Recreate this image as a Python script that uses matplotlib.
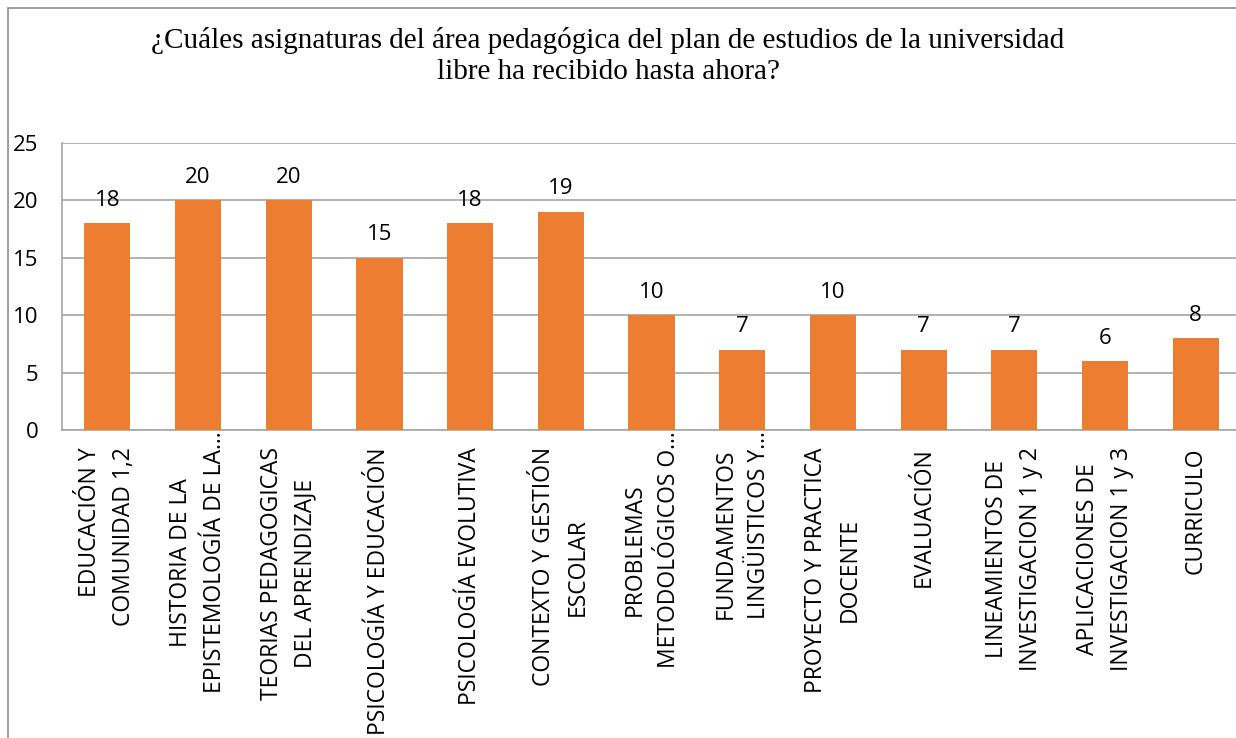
import matplotlib.pyplot as plt
from matplotlib.patches import Rectangle

# datos
asignaturas = [
    'EDUCACIÓN Y\nCOMUNIDAD 1,2',
    'HISTORIA DE LA\nEPISTEMOLOGÍA DE LA...',
    'TEORIAS PEDAGOGICAS\nDEL APRENDIZAJE',
    'PSICOLOGÍA Y EDUCACIÓN',
    'PSICOLOGÍA EVOLUTIVA',
    'CONTEXTO Y GESTIÓN\nESCOLAR',
    'PROBLEMAS\nMETODOLÓGICOS O...',
    'FUNDAMENTOS\nLINGÜISTICOS Y...',
    'PROYECTO Y PRACTICA\nDOCENTE',
    'EVALUACIÓN',
    'LINEAMIENTOS DE\nINVESTIGACION 1 y 2',
    'APLICACIONES DE\nINVESTIGACION 1 y 3',
    'CURRICULO',
]
estudiantes = [18, 20, 20, 15, 18, 19, 10, 7, 10, 7, 7, 6, 8]
yticks = [0, 5, 10, 15, 20, 25]

titulo = ('¿Cuáles asignaturas del área pedagógica del plan de estudios de la universidad\n'
          'libre ha recibido hasta ahora?')

plt.rcParams['font.family'] = ['Open Sans', 'DejaVu Sans']

fig = plt.figure(figsize=(12.36, 7.38), dpi=100)

# marco exterior del grafico (cortado a la derecha y abajo)
fig.patches.append(Rectangle((8/1236, -0.1), 1.2, 1.1 - 8/738,
                             transform=fig.transFigure, fill=False,
                             edgecolor='#8c8c8c', lw=1.2))

ax = fig.add_axes([62/1236, 1 - 430/738, 13*90.7/1236, 287/738])

x = list(range(len(estudiantes)))
bars = ax.bar(x, estudiantes, width=0.51, color='#ED7D31', zorder=3)
ax.bar_label(bars, padding=9, fontsize=16)

ax.set_xlim(-0.5, len(estudiantes) - 0.5)
ax.set_ylim(0, 25)
ax.set_yticks(yticks)
ax.grid(axis='y', color='#a6a6a6', lw=1.2, zorder=0)

for s in ['top', 'right']:
    ax.spines[s].set_visible(False)
for s in ['left', 'bottom']:
    ax.spines[s].set_color('#a6a6a6')
    ax.spines[s].set_linewidth(1.2)

ax.set_xticks(x)
ax.set_xticklabels([])
ax.tick_params(axis='x', length=0)
ax.tick_params(axis='y', length=0, pad=17, labelsize=16)

# etiquetas de categoria (las truncadas con "..." llegan hasta el eje)
for i, lab in enumerate(asignaturas):
    off = 1 if lab.endswith('...') else 12.5
    ma = 'center'
    if i == 0:
        ma = 'right'
    elif i == 7:
        ma = 'left'
    ax.annotate(lab, xy=(i, 0), xycoords=('data', 'axes fraction'),
                xytext=(0, -off), textcoords='offset points',
                rotation=90, ha='center', va='top', multialignment=ma,
                fontsize=16.5, linespacing=1.55, annotation_clip=False)

fig.text(0.492, 0.924, titulo, ha='center', va='center',
         fontsize=21, family='Liberation Serif', linespacing=1.25)

fig.savefig('out.png', dpi=100)
